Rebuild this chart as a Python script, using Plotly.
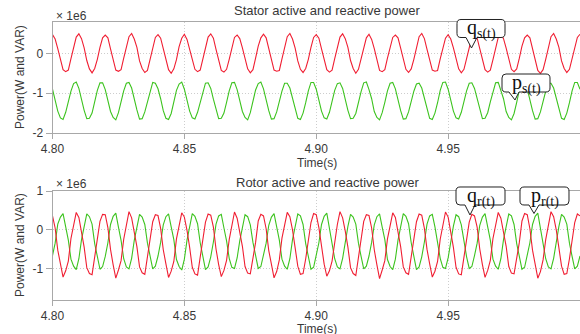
import numpy as np
import plotly.graph_objects as go

# ---------------- data (values in units of 1e6 W / VAR) ----------------
t_start = 4.800
t_step = 0.001
n_samples = 201
time_s = np.round(t_start + t_step * np.arange(n_samples), 3)

x_tick_vals = [4.80, 4.85, 4.90, 4.95]
x_tick_text = ["4.80", "4.85", "4.90", "4.95"]
y_top_ticks = [0, -1, -2]
y_bot_ticks = [1, 0, -1]

# stator reactive power q_s(t)
q_s = [
    0.47, 0.36, 0.12, -0.15, -0.41, -0.46, -0.42, -0.13, 0.17, 0.41,
    0.49, 0.37, 0.14, -0.18, -0.39, -0.49, -0.38, -0.15, 0.15, 0.39,
    0.46, 0.39, 0.11, -0.16, -0.42, -0.45, -0.41, -0.12, 0.18, 0.42,
    0.50, 0.36, 0.15, -0.19, -0.38, -0.48, -0.43, -0.14, 0.14, 0.40,
    0.47, 0.38, 0.12, -0.17, -0.41, -0.50, -0.39, -0.16, 0.17, 0.38,
    0.48, 0.35, 0.13, -0.15, -0.40, -0.46, -0.42, -0.13, 0.16, 0.41,
    0.49, 0.38, 0.10, -0.18, -0.43, -0.47, -0.40, -0.15, 0.15, 0.40,
    0.46, 0.37, 0.14, -0.16, -0.39, -0.49, -0.41, -0.12, 0.18, 0.39,
    0.48, 0.39, 0.12, -0.17, -0.42, -0.45, -0.43, -0.14, 0.16, 0.42,
    0.50, 0.36, 0.13, -0.19, -0.40, -0.48, -0.38, -0.15, 0.15, 0.40,
    0.47, 0.38, 0.11, -0.15, -0.41, -0.47, -0.42, -0.13, 0.17, 0.41,
    0.49, 0.37, 0.15, -0.18, -0.38, -0.50, -0.40, -0.16, 0.14, 0.39,
    0.48, 0.35, 0.12, -0.16, -0.43, -0.46, -0.41, -0.12, 0.18, 0.40,
    0.46, 0.39, 0.13, -0.17, -0.40, -0.48, -0.39, -0.15, 0.16, 0.42,
    0.50, 0.37, 0.10, -0.19, -0.42, -0.45, -0.43, -0.14, 0.15, 0.38,
    0.47, 0.36, 0.14, -0.15, -0.39, -0.49, -0.40, -0.13, 0.17, 0.41,
    0.49, 0.38, 0.12, -0.18, -0.41, -0.47, -0.42, -0.16, 0.16, 0.40,
    0.48, 0.37, 0.13, -0.16, -0.40, -0.46, -0.39, -0.12, 0.18, 0.39,
    0.46, 0.39, 0.11, -0.17, -0.43, -0.50, -0.41, -0.15, 0.14, 0.42,
    0.50, 0.36, 0.15, -0.19, -0.38, -0.48, -0.40, -0.14, 0.16, 0.40,
    0.48,
]

# stator active power p_s(t)
p_s = [
    -0.90, -1.15, -1.45, -1.62, -1.66, -1.48, -1.21, -0.95, -0.76, -0.72,
    -0.88, -1.17, -1.43, -1.64, -1.63, -1.50, -1.23, -0.93, -0.74, -0.74,
    -0.91, -1.16, -1.46, -1.61, -1.67, -1.49, -1.20, -0.94, -0.75, -0.73,
    -0.87, -1.18, -1.42, -1.65, -1.64, -1.47, -1.24, -0.96, -0.73, -0.75,
    -0.89, -1.14, -1.44, -1.63, -1.66, -1.51, -1.22, -0.93, -0.77, -0.72,
    -0.90, -1.17, -1.45, -1.62, -1.65, -1.48, -1.21, -0.95, -0.75, -0.74,
    -0.88, -1.15, -1.43, -1.64, -1.63, -1.50, -1.23, -0.94, -0.74, -0.73,
    -0.91, -1.16, -1.46, -1.61, -1.67, -1.49, -1.22, -0.92, -0.76, -0.72,
    -0.89, -1.18, -1.44, -1.65, -1.64, -1.47, -1.20, -0.95, -0.75, -0.75,
    -0.87, -1.15, -1.42, -1.63, -1.66, -1.50, -1.24, -0.94, -0.73, -0.73,
    -0.90, -1.17, -1.45, -1.62, -1.65, -1.48, -1.21, -0.93, -0.76, -0.74,
    -0.88, -1.16, -1.43, -1.64, -1.63, -1.51, -1.22, -0.96, -0.74, -0.72,
    -0.91, -1.14, -1.46, -1.61, -1.67, -1.49, -1.23, -0.94, -0.75, -0.73,
    -0.89, -1.18, -1.44, -1.65, -1.64, -1.47, -1.20, -0.95, -0.77, -0.75,
    -0.87, -1.15, -1.42, -1.63, -1.66, -1.50, -1.24, -0.93, -0.73, -0.72,
    -0.90, -1.17, -1.45, -1.62, -1.65, -1.48, -1.21, -0.94, -0.75, -0.74,
    -0.88, -1.16, -1.43, -1.64, -1.63, -1.49, -1.22, -0.96, -0.74, -0.73,
    -0.91, -1.14, -1.46, -1.61, -1.67, -1.51, -1.23, -0.92, -0.76, -0.72,
    -0.89, -1.18, -1.44, -1.65, -1.64, -1.47, -1.20, -0.95, -0.75, -0.75,
    -0.87, -1.15, -1.42, -1.63, -1.66, -1.50, -1.24, -0.94, -0.73, -0.73,
    -0.90,
]

# rotor reactive power q_r(t)
q_r = [
    0.36, 0.05, -0.52, -0.88, -1.21, -1.05, -0.80, -0.22, 0.15, 0.45,
    0.32, -0.03, -0.44, -0.97, -1.12, -1.15, -0.71, -0.31, 0.22, 0.40,
    0.39, 0.06, -0.50, -0.90, -1.24, -1.03, -0.79, -0.24, 0.14, 0.47,
    0.31, -0.02, -0.43, -0.95, -1.10, -1.14, -0.72, -0.30, 0.21, 0.39,
    0.37, 0.04, -0.51, -0.87, -1.22, -1.06, -0.81, -0.23, 0.16, 0.44,
    0.33, -0.01, -0.45, -0.96, -1.13, -1.16, -0.70, -0.29, 0.20, 0.41,
    0.38, 0.07, -0.49, -0.89, -1.20, -1.04, -0.78, -0.25, 0.13, 0.46,
    0.30, -0.04, -0.42, -0.94, -1.11, -1.13, -0.73, -0.32, 0.23, 0.40,
    0.36, 0.03, -0.53, -0.91, -1.23, -1.07, -0.77, -0.21, 0.17, 0.45,
    0.34, 0.00, -0.46, -0.93, -1.14, -1.12, -0.74, -0.28, 0.19, 0.42,
    0.39, 0.06, -0.48, -0.88, -1.19, -1.05, -0.80, -0.26, 0.14, 0.47,
    0.31, -0.03, -0.44, -0.97, -1.12, -1.17, -0.71, -0.30, 0.22, 0.39,
    0.37, 0.05, -0.51, -0.90, -1.25, -1.03, -0.79, -0.23, 0.15, 0.44,
    0.32, -0.02, -0.43, -0.95, -1.10, -1.14, -0.72, -0.31, 0.21, 0.41,
    0.38, 0.04, -0.50, -0.87, -1.21, -1.06, -0.81, -0.24, 0.16, 0.46,
    0.33, -0.01, -0.45, -0.96, -1.13, -1.15, -0.70, -0.29, 0.20, 0.40,
    0.36, 0.07, -0.49, -0.89, -1.22, -1.04, -0.78, -0.22, 0.13, 0.45,
    0.30, -0.04, -0.42, -0.94, -1.11, -1.13, -0.73, -0.32, 0.23, 0.42,
    0.39, 0.03, -0.52, -0.91, -1.24, -1.07, -0.77, -0.25, 0.17, 0.47,
    0.34, 0.00, -0.46, -0.93, -1.14, -1.12, -0.74, -0.28, 0.19, 0.41,
    0.36,
]

# rotor active power p_r(t)
p_r = [
    -0.66, -0.34, 0.15, 0.33, 0.42, 0.06, -0.26, -0.75, -0.93, -1.02,
    -0.74, -0.25, 0.08, 0.41, 0.34, 0.15, -0.35, -0.67, -1.01, -0.94,
    -0.68, -0.33, 0.14, 0.35, 0.43, 0.07, -0.27, -0.74, -0.95, -1.00,
    -0.73, -0.27, 0.09, 0.40, 0.33, 0.14, -0.34, -0.68, -1.00, -0.93,
    -0.67, -0.32, 0.13, 0.34, 0.41, 0.08, -0.25, -0.76, -0.94, -1.03,
    -0.75, -0.26, 0.07, 0.42, 0.35, 0.16, -0.33, -0.66, -1.02, -0.95,
    -0.69, -0.31, 0.15, 0.36, 0.40, 0.05, -0.28, -0.73, -0.96, -0.99,
    -0.72, -0.28, 0.10, 0.39, 0.34, 0.13, -0.32, -0.69, -0.99, -0.94,
    -0.66, -0.34, 0.12, 0.33, 0.42, 0.09, -0.26, -0.75, -0.93, -1.01,
    -0.74, -0.25, 0.08, 0.41, 0.36, 0.14, -0.35, -0.67, -1.01, -0.96,
    -0.68, -0.33, 0.14, 0.35, 0.43, 0.06, -0.27, -0.74, -0.95, -1.00,
    -0.73, -0.27, 0.09, 0.40, 0.33, 0.15, -0.34, -0.68, -1.00, -0.93,
    -0.67, -0.32, 0.13, 0.34, 0.41, 0.07, -0.25, -0.76, -0.94, -1.02,
    -0.75, -0.26, 0.07, 0.42, 0.35, 0.16, -0.33, -0.66, -1.02, -0.95,
    -0.69, -0.31, 0.15, 0.36, 0.40, 0.08, -0.28, -0.73, -0.96, -0.99,
    -0.72, -0.28, 0.10, 0.39, 0.34, 0.13, -0.32, -0.69, -0.99, -0.94,
    -0.66, -0.34, 0.12, 0.33, 0.42, 0.09, -0.26, -0.75, -0.93, -1.01,
    -0.74, -0.25, 0.08, 0.41, 0.36, 0.14, -0.35, -0.67, -1.01, -0.96,
    -0.68, -0.33, 0.14, 0.35, 0.43, 0.06, -0.27, -0.74, -0.95, -1.00,
    -0.73, -0.27, 0.09, 0.40, 0.33, 0.15, -0.34, -0.68, -1.00, -0.93,
    -0.67,
]

# ---------------- styling ----------------
W, H = 580, 334
RED = "#f01e32"
GREEN = "#3cc31e"
AXIS = "#a8a8a8"
GRID = "#cdcdcd"
TXT = "#383838"
SANS = "Liberation Sans, Arial, sans-serif"
SERIF = "Liberation Serif, Times New Roman, serif"


def px(x):
    return x / W


def py(y):
    return 1 - y / H


fig = go.Figure()
line_w = 1.1
fig.add_trace(go.Scatter(x=time_s, y=p_s, mode="lines", xaxis="x", yaxis="y",
                         line=dict(color=GREEN, width=line_w), showlegend=False))
fig.add_trace(go.Scatter(x=time_s, y=q_s, mode="lines", xaxis="x", yaxis="y",
                         line=dict(color=RED, width=line_w), showlegend=False))
fig.add_trace(go.Scatter(x=time_s, y=p_r, mode="lines", xaxis="x2", yaxis="y2",
                         line=dict(color=GREEN, width=line_w), showlegend=False))
fig.add_trace(go.Scatter(x=time_s, y=q_r, mode="lines", xaxis="x2", yaxis="y2",
                         line=dict(color=RED, width=line_w), showlegend=False))

xdom = [px(52.5), 1.0]
top_dom = [py(133), py(21.5)]
bot_dom = [py(300), py(191)]


def xaxis_cfg(anchor):
    return dict(domain=xdom, anchor=anchor, range=[4.8, 5.0],
                tickmode="array", tickvals=x_tick_vals, ticktext=x_tick_text,
                showline=True, linecolor=AXIS, linewidth=1, mirror=True,
                ticks="outside", ticklen=5, tickcolor=AXIS,
                showgrid=True, gridcolor=GRID, griddash="1px,2px", gridwidth=1,
                zeroline=False, automargin=False,
                tickfont=dict(family=SANS, size=12, color=TXT))


def yaxis_cfg(anchor, dom, rng, ticks):
    return dict(domain=dom, anchor=anchor, range=rng,
                tickmode="array", tickvals=ticks,
                ticktext=[str(v) for v in ticks],
                showline=True, linecolor=AXIS, linewidth=1,
                ticks="outside", ticklen=6, tickcolor=AXIS,
                showgrid=True, gridcolor=GRID, griddash="1px,2px", gridwidth=1,
                zeroline=False, automargin=False,
                tickfont=dict(family=SANS, size=12, color=TXT))


annotations = []


def text(x, y, s, size=12, angle=0, xanchor="center"):
    annotations.append(dict(x=px(x), y=py(y), xref="paper", yref="paper",
                            text=s, showarrow=False, textangle=angle,
                            xanchor=xanchor, yanchor="middle",
                            font=dict(family=SANS, size=size, color=TXT)))


text(327, 10, "Stator active and reactive power", size=13)
text(327, 182, "Rotor active and reactive power", size=13)
text(317, 163, "Time(s)")
text(317, 329, "Time(s)")
text(54, 16, "× 1e6", size=12, xanchor="left")
text(54, 184, "× 1e6", size=12, xanchor="left")
text(20, 77, "Power(W and VAR)", angle=-90)
text(20, 245, "Power(W and VAR)", angle=-90)

shapes = []


def bubble(x0, y0, x1, y1, bl, br, tx, ty, label):
    r = 4
    pts = [
        ("M", x0 + r, y0), ("L", x1 - r, y0), ("Q", x1, y0, x1, y0 + r),
        ("L", x1, y1 - r), ("Q", x1, y1, x1 - r, y1), ("L", br, y1),
        ("L", tx, ty), ("L", bl, y1), ("L", x0 + r, y1),
        ("Q", x0, y1, x0, y1 - r), ("L", x0, y0 + r), ("Q", x0, y0, x0 + r, y0),
    ]
    parts = []
    for p in pts:
        cmd = p[0]
        coords = p[1:]
        cs = []
        for i in range(0, len(coords), 2):
            cs.append(f"{px(coords[i]):.5f},{py(coords[i + 1]):.5f}")
        parts.append(cmd + " " + " ".join(cs))
    path = " ".join(parts) + " Z"
    shapes.append(dict(type="path", path=path, xref="paper", yref="paper",
                       line=dict(color="#222222", width=1), fillcolor="white",
                       layer="above"))
    annotations.append(dict(x=px((x0 + x1) / 2), y=py((y0 + y1) / 2 + 1),
                            xref="paper", yref="paper", text=label,
                            showarrow=False, xanchor="center", yanchor="middle",
                            font=dict(family=SERIF, size=20, color="#111111")))


bubble(457, 19.5, 505, 37.5, 466, 477, 471.5, 48, "q<sub>s(t)</sub>")
bubble(502, 74, 550, 92, 509, 519, 515, 100, "p<sub>s(t)</sub>")
bubble(456, 187, 505, 205, 465, 475, 470, 215, "q<sub>r(t)</sub>")
bubble(520, 187, 569, 205, 529, 539, 534, 213.5, "p<sub>r(t)</sub>")

fig.update_layout(
    width=W, height=H, autosize=False,
    margin=dict(l=0, r=0, t=0, b=0, pad=0),
    paper_bgcolor="white", plot_bgcolor="white",
    xaxis=xaxis_cfg("y"),
    yaxis=yaxis_cfg("x", top_dom, [-2.0, 0.8], y_top_ticks),
    xaxis2=xaxis_cfg("y2"),
    yaxis2=yaxis_cfg("x2", bot_dom, [-1.8, 1.0], y_bot_ticks),
    annotations=annotations,
    shapes=shapes,
    showlegend=False,
)

fig.write_html("out.html",
               config={"displayModeBar": False},
               post_script="document.body.style.margin='0';document.body.style.overflow='hidden';")
